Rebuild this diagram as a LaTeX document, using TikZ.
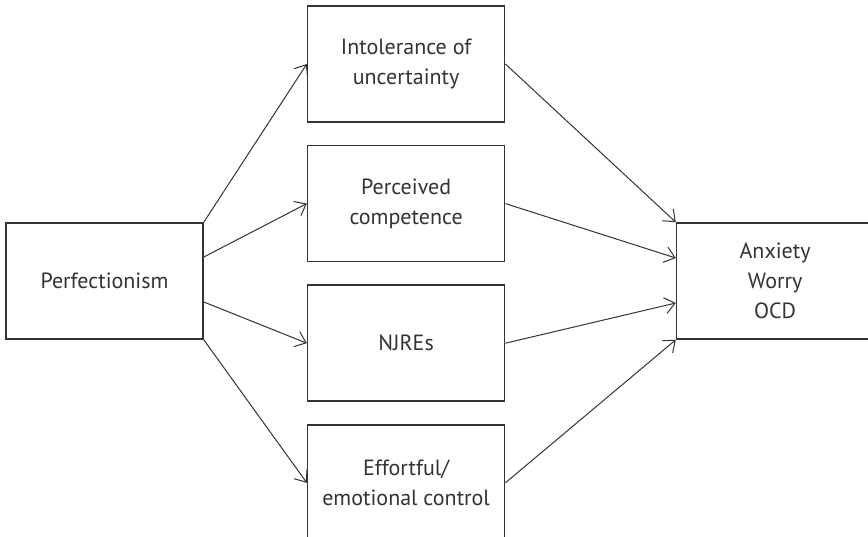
\documentclass[tikz,border=0pt]{standalone}
\usepackage{fontspec}
\setmainfont{PT Sans}
\usepackage{tikz}
\usetikzlibrary{positioning,arrows.meta}
\usepackage{xcolor}
\definecolor{inkgray}{HTML}{333333}

\begin{document}
\begin{tikzpicture}[
        box/.style={draw=inkgray, line width=0.8pt, text=inkgray, minimum width=98.5pt, minimum height=58pt, inner sep=3pt, align=center, font=\fontsize{11}{15}\selectfont},
        arrow/.style={-{Straight Barb[length=5pt, width=8pt]}, line width=0.5pt, color=inkgray}
    ]
        \useasboundingbox (-52.25pt,-127.5pt) rectangle (381.75pt,140.5pt);

        \node[box] (perf) {Perfectionism};

        \node[box, right=51.5pt of perf, yshift=108.5pt] (iu) {Intolerance of\\uncertainty};
        \node[box, below=11pt of iu] (pc) {Perceived\\competence};
        \node[box, below=11pt of pc] (nj) {NJREs};
        \node[box, below=11pt of nj] (ec) {Effortful/\\emotional control};

        \node[box, right=236pt of perf] (out) {Anxiety\\Worry\\OCD};

        \draw[arrow] (perf.north east) -- (iu.west);
        \draw[arrow] ([yshift=12pt]perf.east) -- (pc.west);
        \draw[arrow] ([yshift=-10.5pt]perf.east) -- (nj.west);
        \draw[arrow] (perf.south east) -- (ec.west);

        \draw[arrow] (iu.east) -- (out.north west);
        \draw[arrow] (pc.east) -- ([yshift=11.5pt]out.west);
        \draw[arrow] (nj.east) -- ([yshift=-11pt]out.west);
        \draw[arrow] (ec.east) -- (out.south west);
    \end{tikzpicture}
\end{document}
